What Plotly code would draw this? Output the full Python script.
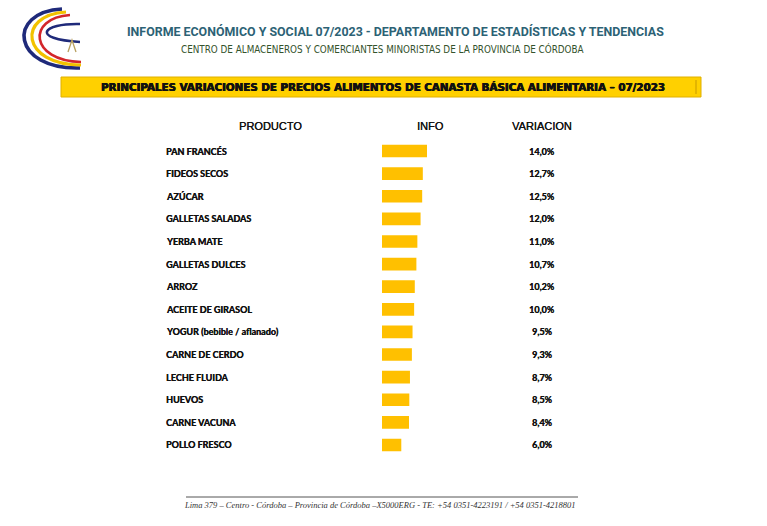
import plotly.graph_objects as go

W, H = 767, 526

productos = [
    "PAN FRANCÉS", "FIDEOS SECOS", "AZÚCAR", "GALLETAS SALADAS", "YERBA MATE",
    "GALLETAS DULCES", "ARROZ", "ACEITE DE GIRASOL", "YOGUR (bebible / aflanado)",
    "CARNE DE CERDO", "LECHE FLUIDA", "HUEVOS", "CARNE VACUNA", "POLLO FRESCO",
]
variacion = [14.0, 12.7, 12.5, 12.0, 11.0, 10.7, 10.2, 10.0, 9.5, 9.3, 8.7, 8.5, 8.4, 6.0]
etiquetas = [f"{v:.1f}%".replace(".", ",") for v in variacion]
encabezados = ["PRODUCTO", "INFO", "VARIACION"]

titulo = "INFORME ECONÓMICO Y SOCIAL 07/2023 - DEPARTAMENTO DE ESTADÍSTICAS Y TENDENCIAS"
subtitulo = "CENTRO DE ALMACENEROS Y COMERCIANTES MINORISTAS DE LA PROVINCIA DE CÓRDOBA"
banner = "PRINCIPALES VARIACIONES DE PRECIOS ALIMENTOS DE CANASTA BÁSICA ALIMENTARIA – 07/2023"
pie = "Lima 379 – Centro - Córdoba – Provincia de Córdoba –X5000ERG - TE: +54 0351-4223191 / +54 0351-4218801"


def px(x):
    return x / W


def py(y):
    return 1 - y / H


def path(cmds):
    out = []
    for c in cmds:
        if isinstance(c, str):
            out.append(c)
        else:
            out.append(f"{px(c[0]):.5f},{py(c[1]):.5f}")
    return " ".join(out)


fig = go.Figure()
fig.add_trace(go.Bar(
    x=variacion, y=productos, orientation="h",
    marker=dict(color="#FFC000", line=dict(width=0)),
    hoverinfo="skip", showlegend=False,
))

x0, x14 = 382, 427
y_top, y_bot = 151 - 11.3, 445 + 11.3

fig.update_layout(
    width=W, height=H,
    margin=dict(l=0, r=0, t=0, b=0),
    paper_bgcolor="white", plot_bgcolor="white",
    bargap=0.44,
    xaxis=dict(domain=[px(x0), px(x14)], range=[0, 14], visible=False, fixedrange=True),
    yaxis=dict(domain=[py(y_bot), py(y_top)], categoryorder="array", categoryarray=productos,
               autorange="reversed", visible=False, fixedrange=True),
)

lab_font = dict(family="Lato", size=9, color="#111111", weight="bold",
                shadow="0.3px 0 0 #111111")
ann = []
for p, e in zip(productos, etiquetas):
    ann.append(dict(x=px(164), y=p, xref="paper", yref="y", text=p, showarrow=False,
                    xanchor="left", yanchor="middle", font=lab_font))
    ann.append(dict(x=px(542), y=p, xref="paper", yref="y", text=e, showarrow=False,
                    xanchor="center", yanchor="middle", font=lab_font))

for txt, xc in zip(encabezados, [270, 430, 542]):
    ann.append(dict(x=px(xc), y=py(126), xref="paper", yref="paper", text=txt, showarrow=False,
                    xanchor="center", yanchor="middle",
                    font=dict(family="Liberation Sans", size=11, color="#111111",
                              shadow="0.3px 0 0 #111111")))

ann.append(dict(x=px(395), y=py(31), xref="paper", yref="paper", text=titulo, showarrow=False,
                xanchor="center", yanchor="middle",
                font=dict(family="Roboto", size=12.4, color="#2c6275", weight="bold")))
ann.append(dict(x=px(382), y=py(49), xref="paper", yref="paper", text=subtitulo, showarrow=False,
                xanchor="center", yanchor="middle",
                font=dict(family="DejaVu Sans Condensed, Liberation Sans", size=9.8,
                          color="#34522c")))
ann.append(dict(x=px(383), y=py(87), xref="paper", yref="paper", text=banner, showarrow=False,
                xanchor="center", yanchor="middle",
                font=dict(family="DejaVu Sans", size=10.3, color="#111111", weight="bold",
                          shadow="0.5px 0 0 #111111, -0.3px 0 0 #111111")))
ann.append(dict(x=px(380), y=py(505), xref="paper", yref="paper", text=pie, showarrow=False,
                xanchor="center", yanchor="middle",
                font=dict(family="Liberation Serif", size=8.5, color="#333333", style="italic")))
fig.update_layout(annotations=ann)

shapes = []
shapes.append(dict(type="rect", xref="paper", yref="paper",
                   x0=px(61), x1=px(701), y0=py(97), y1=py(77),
                   fillcolor="#FFD000", line=dict(color="#E0B000", width=1), layer="below"))
shapes.append(dict(type="line", xref="paper", yref="paper",
                   x0=px(696), x1=px(696), y0=py(94), y1=py(80),
                   line=dict(color="#C89A00", width=1)))
shapes.append(dict(type="line", xref="paper", yref="paper",
                   x0=px(186), x1=px(578), y0=py(497), y1=py(497),
                   line=dict(color="#555555", width=1)))
logo = [
    (["M", (62, 9), "C", (6, 12), (12, 70), (80, 68)], "#1f2a7a", 3.6),
    (["M", (66, 12), "C", (16, 15), (21, 65), (81, 65)], "#F2C200", 3.2),
    (["M", (70, 15), "C", (26, 18), (30, 61), (81, 62)], "#D3262B", 2.6),
    (["M", (80, 24), "C", (42, 23), (30, 39), (80, 42)], "#1f2a7a", 2.6),
    (["M", (68, 52), "L", (72, 40), "L", (76, 52)], "#B8A060", 1.3),
]
for cmds, col, w in logo:
    shapes.append(dict(type="path", xref="paper", yref="paper", path=path(cmds),
                       line=dict(color=col, width=w)))
fig.update_layout(shapes=shapes)

fig.write_html("out.html", config={"displayModeBar": False},
               post_script="document.body.style.margin='0';document.body.style.overflow='hidden';")
